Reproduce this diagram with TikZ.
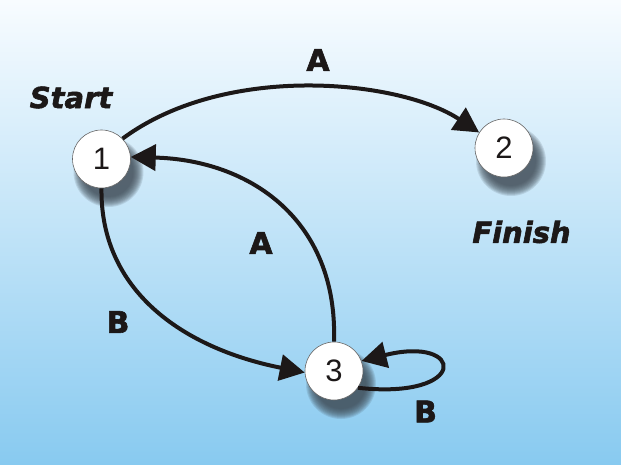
\documentclass[tikz,border=0pt]{standalone}
\usepackage{fontspec}
\setmainfont{Liberation Sans}
\newfontfamily\lblfont{DejaVu Sans}[BoldFeatures={FakeBold=2},BoldItalicFeatures={FakeBold=2}]
\usetikzlibrary{arrows.meta}
\definecolor{bgtop}{RGB}{248,252,255}
\definecolor{bgbot}{RGB}{136,202,240}
\definecolor{ink}{RGB}{28,24,24}
\definecolor{shadowc}{RGB}{60,72,82}
\begin{document}
\begin{tikzpicture}[x=1pt,y=-1pt,
  state/.style={circle, draw=black!60, line width=0.6pt, fill=white,
    minimum size=58pt, inner sep=0pt, text=ink,
    font=\fontsize{31}{31}\selectfont},
  shadowdisc/.style={fill=shadowc, fill opacity=0.14},
  trans/.style={line width=4pt, draw=ink, -{Triangle[length=25pt,width=26pt]}},
  lbl/.style={font=\lblfont\bfseries\fontsize{30}{30}\selectfont, text=ink, inner sep=0pt},
  tag/.style={font=\lblfont\bfseries\itshape\fontsize{29}{29}\selectfont, text=ink, inner sep=0pt}
]
\shade[top color=bgtop, bottom color=bgbot] (0,0) rectangle (621,465);
\useasboundingbox (0,0) rectangle (621,465);

\coordinate (c1) at (101.5,159);
\coordinate (c2) at (504,148);
\coordinate (c3) at (334,371);

\foreach \c in {c1,c2,c3}{
  \foreach \r in {35,34,...,25}{
    \fill[shadowdisc] ([shift={(7,13)}]\c) circle (\r pt);
  }
}

\node[state] (n1) at (c1) {1};
\node[state] (n2) at (c2) {2};
\node[state] (n3) at (c3) {3};

\draw[trans] (n1.44) .. controls (226,62) and (400,80) .. (n2.148);
\draw[trans] (n3.90) .. controls (338,220) and (250,160) .. (n1.4);
\draw[trans] (n1.270) .. controls (100,290) and (182,348) .. (n3.183);
\draw[trans] (n3.-35) .. controls (470,400) and (465,335) .. (n3.20);

\node[lbl] (la1) at (318,60) {A};
\node[lbl] (la2) at (261,243) {A};
\node[lbl] (lb1) at (118,322) {B};
\node[lbl] (lb2) at (425.5,411.5) {B};
\node[tag] (start) at (71,97.5) {Start};
\node[tag] (finish) at (521.5,232) {Finish};
\end{tikzpicture}
\end{document}
